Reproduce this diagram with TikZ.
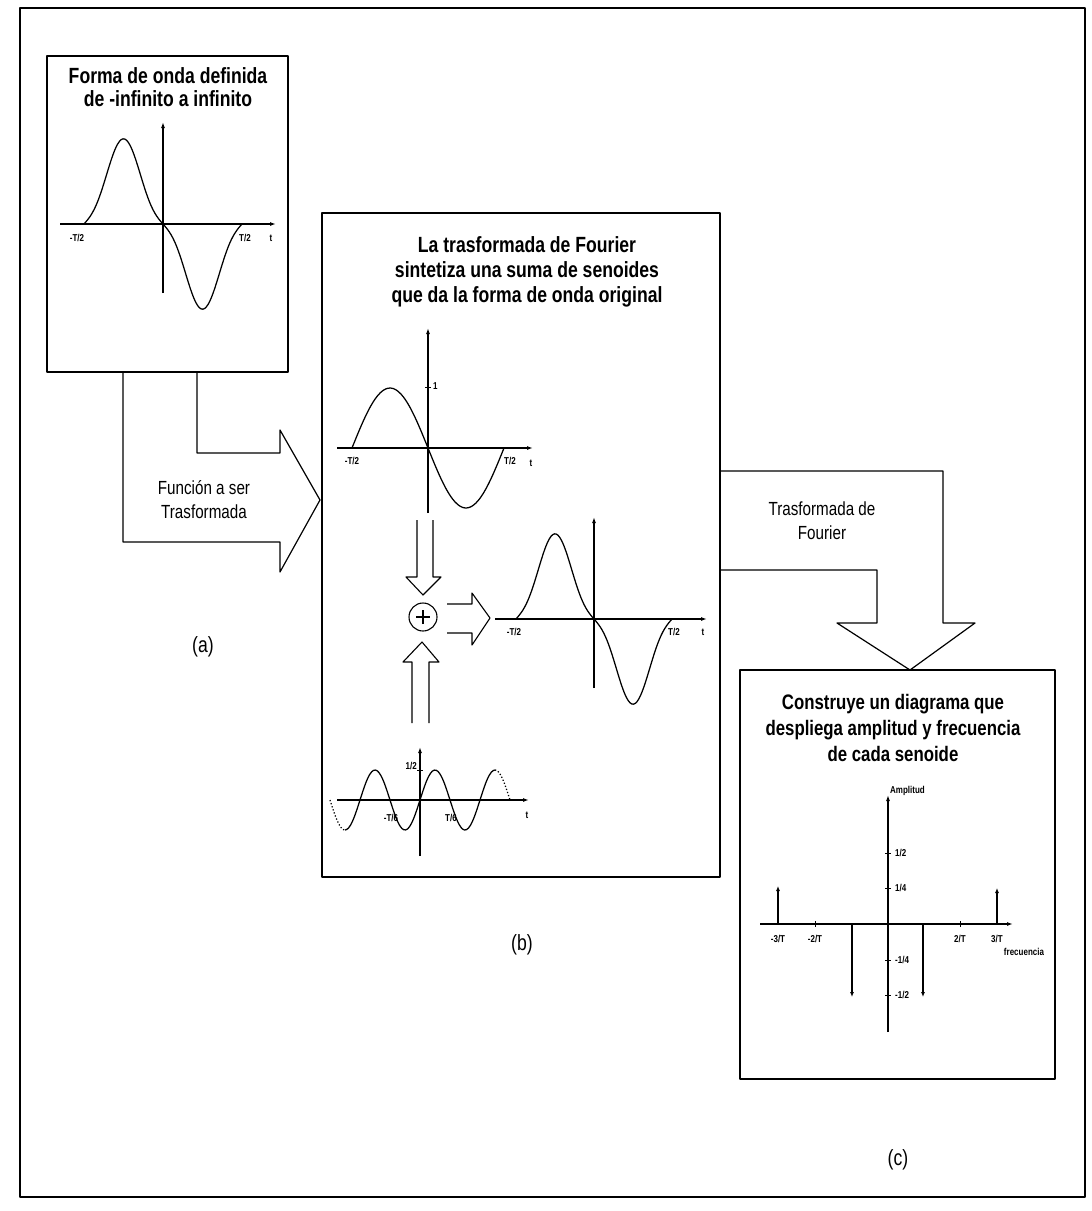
\documentclass[tikz,border=0pt]{standalone}
\usepackage{fontspec}
\setmainfont{Liberation Sans}[FakeStretch=0.8]
\usetikzlibrary{arrows.meta}

\begin{document}
\begin{tikzpicture}[x=1pt, y=-1pt, line join=round,
    declare function={comp(\u)=-sin(180*\u)+0.2*sin(540*\u);},
    outerframe/.style={draw=black, line width=1.7pt},
    panel/.style={draw=black, line width=1.3pt},
    bigarrow/.style={draw=black, line width=1.2pt},
    hollow/.style={draw=black, line width=1.1pt},
    axisline/.style={line width=1.2pt, -{Latex[length=6pt,width=4pt]}},
    wave/.style={line width=1.25pt},
    stem/.style={line width=1.4pt, -{Latex[length=5pt,width=4pt]}},
    ttl/.style={font=\bfseries\fontsize{22}{25}\selectfont, align=center},
    lbl/.style={font=\fontsize{19}{24}\selectfont, align=center},
    ticklbl/.style={font=\bfseries\fontsize{10}{12}\selectfont, inner sep=1pt},
    panellabel/.style={font=\fontsize{22}{26}\selectfont}]
  \useasboundingbox (0,0) rectangle (1092,1211);
  \draw[outerframe] (20,8) rectangle (1085,1197);

  \draw[panel] (47,56) rectangle (288,372);
  \node[ttl, font=\bfseries\fontsize{22}{23}\selectfont] (ttlA) at (168,87) {Forma de onda definida\\de -infinito a infinito};
  \draw[axisline] (60,224) -- (276,224);
  \draw[axisline] (163,293) -- (163,122);
  \draw[wave] plot[domain=-1:1, samples=90, smooth] ({163+79*\x}, {224-71*comp(\x)});
  \node[ticklbl] (ta1) at (77,238) {-T/2};
  \node[ticklbl] (ta2) at (245,238) {T/2};
  \node[ticklbl] (ta3) at (271,238) {t};

  \draw[bigarrow] (123,372) -- (123,542) -- (280,542) -- (280,572) -- (320,500) -- (280,430) -- (280,453) -- (197,453) -- (197,372);
  \node[lbl] (lblA) at (204,500) {Función a ser\\Trasformada};
  \node[panellabel] (tagA) at (203,647) {(a)};

  \draw[panel] (322,213) rectangle (720,877);
  \node[ttl] (ttlB) at (527,272) {La trasformada de Fourier\\sintetiza una suma de senoides\\que da la forma de onda original};
  \draw[axisline] (337,448) -- (533,448);
  \draw[axisline] (428,513) -- (428,328);
  \draw[line width=1pt] (425,387) -- (431,387);
  \node[ticklbl, anchor=west] (tb0) at (432,386) {1};
  \draw[wave] plot[domain=-1:1, samples=60, smooth] ({428+76*\x}, {448+60*sin(180*\x)});
  \node[ticklbl] (tb1) at (352,461) {-T/2};
  \node[ticklbl] (tb2) at (510,461) {T/2};
  \node[ticklbl] (tb3) at (531,463) {t};

  \draw[hollow] (417,520) -- (417,577) -- (406,577) -- (423,595) -- (441,577) -- (433,577) -- (433,520);
  \node[draw, circle, line width=1.1pt, minimum size=28pt, inner sep=0pt] (sum) at (423,617) {};
  \draw[line width=1.6pt] ([xshift=-7pt]sum.center) -- ([xshift=7pt]sum.center)
    ([yshift=-7pt]sum.center) -- ([yshift=7pt]sum.center);
  \draw[hollow] (412,723) -- (412,662) -- (403,662) -- (422,642) -- (439,662) -- (429,662) -- (429,723);
  \draw[hollow] (447,604) -- (472,604) -- (472,593) -- (490,618) -- (472,645) -- (472,633) -- (447,633);

  \draw[axisline] (495,619) -- (707,619);
  \draw[axisline] (594,688) -- (594,517);
  \draw[wave] plot[domain=-1:1, samples=90, smooth] ({594+78*\x}, {619-71*comp(\x)});
  \node[ticklbl] (tc1) at (514,632) {-T/2};
  \node[ticklbl] (tc2) at (674,632) {T/2};
  \node[ticklbl] (tc3) at (703,632) {t};

  \draw[axisline] (337,800) -- (529,800);
  \draw[axisline] (420,856) -- (420,747);
  \draw[line width=1pt] (417,770) -- (423,770);
  \node[ticklbl, anchor=east] (td0) at (418,766) {1/2};
  \draw[wave] plot[domain=-75:75, samples=80, smooth] ({420+\x}, {800-30*sin(6*\x)});
  \draw[wave, dotted] plot[domain=-90:-75, samples=12, smooth] ({420+\x}, {800-30*sin(6*\x)});
  \draw[wave, dotted] plot[domain=75:90, samples=12, smooth] ({420+\x}, {800-30*sin(6*\x)});
  \node[ticklbl] (td1) at (391,818) {-T/6};
  \node[ticklbl] (td2) at (451,818) {T/6};
  \node[ticklbl] (td3) at (527,815) {t};
  \node[panellabel] (tagB) at (522,945) {(b)};

  \draw[bigarrow] (720,471) -- (943,471) -- (943,623) -- (975,623) -- (910,670) -- (837,623) -- (877,623) -- (877,570) -- (720,570);
  \node[lbl] (lblB) at (822,521) {Trasformada de\\Fourier};

  \draw[panel] (740,670) rectangle (1055,1079);
  \node[ttl, font=\bfseries\fontsize{21}{26}\selectfont] (ttlC) at (893,728) {Construye un diagrama que\\despliega amplitud y frecuencia\\de cada senoide};
  \draw[axisline] (760,924) -- (1013,924);
  \draw[axisline] (888,1032) -- (888,795);
  \draw[stem] (778,924) -- (778,886);
  \draw[stem] (997,924) -- (997,888);
  \draw[stem] (852,924) -- (852,997);
  \draw[stem] (923,924) -- (923,997);
  \foreach \t in {815,960} \draw[line width=1pt] (\t,921) -- (\t,927);
  \foreach \t in {853,888,960,995} \draw[line width=1pt] (885,\t) -- (891,\t);
  \node[ticklbl, anchor=west] (amp) at (889,791) {Amplitud};
  \node[ticklbl, anchor=west] (te1) at (894,853) {1/2};
  \node[ticklbl, anchor=west] (te2) at (894,888) {1/4};
  \node[ticklbl, anchor=west] (te3) at (894,960) {-1/4};
  \node[ticklbl, anchor=west] (te4) at (894,995) {-1/2};
  \node[ticklbl] (tf1) at (778,939) {-3/T};
  \node[ticklbl] (tf2) at (815,939) {-2/T};
  \node[ticklbl] (tf3) at (960,939) {2/T};
  \node[ticklbl] (tf4) at (997,939) {3/T};
  \node[ticklbl] (frq) at (1024,952) {frecuencia};
  \node[panellabel] (tagC) at (898,1160) {(c)};
\end{tikzpicture}
\end{document}
